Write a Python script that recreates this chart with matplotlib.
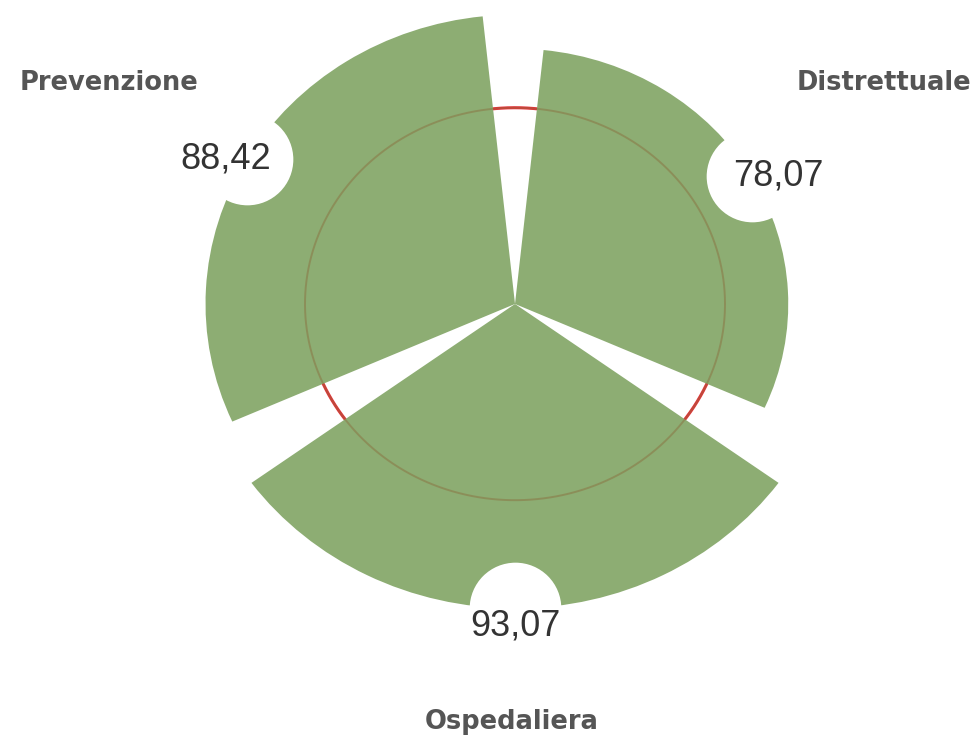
import matplotlib
matplotlib.use('Agg')

import matplotlib.pyplot as plt
import numpy as np

# LEA scores per area
areas = ["Distrettuale", "Prevenzione", "Ospedaliera"]
scores = [78.07, 88.42, 93.07]
score_labels = ["78,07", "88,42", "93,07"]
angles_deg = [30, 150, 270]
threshold = 60

green = "#8dad73"
red = "#e8303a"

fig = plt.figure(figsize=(9.74, 7.45), dpi=100)
ax = fig.add_axes([0.1694, 0.153, 0.7187, 0.878], projection='polar')
ax.set_aspect('auto')

theta = np.deg2rad(angles_deg)
width = np.deg2rad(108)

# threshold ring: solid underneath, faint on top of the bars
ring = np.linspace(0, 2 * np.pi, 400)
ax.plot(ring, np.full_like(ring, threshold), color=red, lw=2.2, zorder=1)
ax.bar(theta, scores, width=width, color=green, edgecolor='none', zorder=2)
ax.plot(ring, np.full_like(ring, threshold), color="#8a6a3a", lw=1.4, alpha=0.45, zorder=3)

# white notches at the tip of each bar
ax.plot(theta, scores, 'o', color='white', markersize=66, markeredgewidth=0, zorder=4)

offsets = [(19, 0), (-15, 0), (0, -13)]
for t, s, lab, off in zip(theta, scores, score_labels, offsets):
    ax.annotate(lab, xy=(t, s), xytext=off, textcoords='offset points',
                ha='center', va='center', fontsize=26, color='#333333',
                family='Liberation Sans', zorder=5)

ax.set_ylim(0, 100)
ax.grid(False)
ax.set_xticks([])
ax.set_yticks([])
ax.spines['polar'].set_visible(False)
ax.patch.set_visible(False)

cat_pos = [(0.908, 0.889), (0.112, 0.889), (0.525, 0.031)]
for name, (fx, fy) in zip(areas, cat_pos):
    fig.text(fx, fy, name, ha='center', va='center', fontsize=18.5,
             fontweight='bold', color='#555555')

fig.savefig("out.png", dpi=100)
